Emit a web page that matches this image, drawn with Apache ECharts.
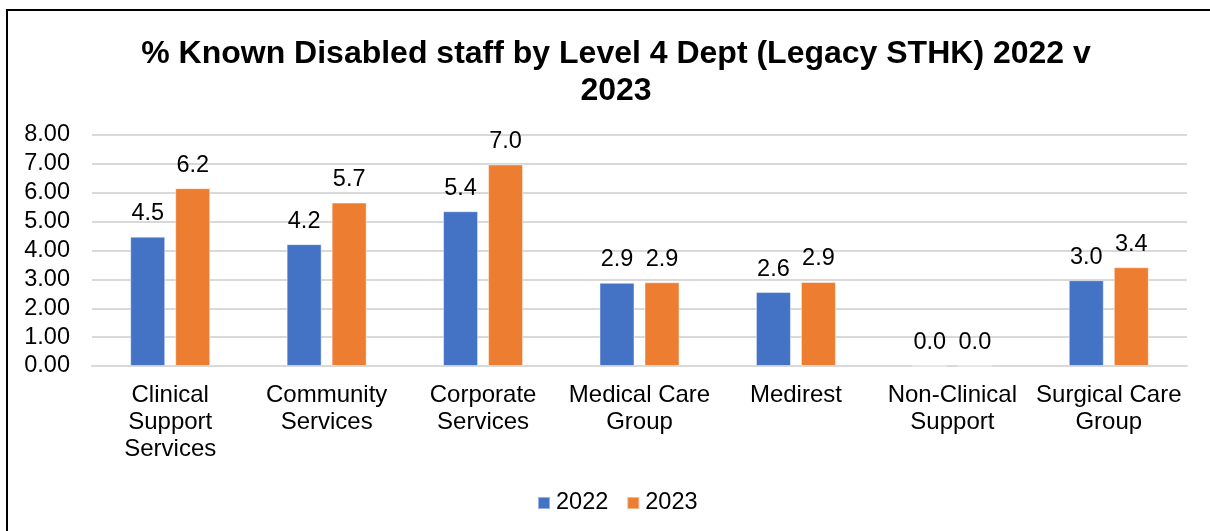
<!DOCTYPE html>
<html>
<head>
<meta charset="utf-8">
<script src="https://cdn.jsdelivr.net/npm/echarts@6/dist/echarts.min.js"></script>
<style>
  html, body { margin: 0; padding: 0; background: #fff; }
  #chart { width: 1210px; height: 531px; }
</style>
</head>
<body>
<div id="chart"></div>
<script>
// Departments (line breaks as they wrap under the axis)
const categories = [
  'Clinical\nSupport\nServices',
  'Community\nServices',
  'Corporate\nServices',
  'Medical Care\nGroup',
  'Medirest',
  'Non-Clinical\nSupport',
  'Surgical Care\nGroup'
];
const seriesNames = ['2022', '2023'];
// % known disabled staff per department
const values2022 = [4.48, 4.22, 5.36, 2.88, 2.56, 0.0, 2.97];
const values2023 = [6.16, 5.66, 6.98, 2.90, 2.91, 0.0, 3.42];
const yTicks = { min: 0, max: 8, interval: 1 };

const FONT = '"Liberation Sans", Arial, sans-serif';
const colors = ['#4472C4', '#ED7D31'];
const TEXT_SIZE = 23.5;

const chart = echarts.init(document.getElementById('chart'), null, { renderer: 'canvas' });

function barSeries(name, data, color) {
  return {
    name: name,
    type: 'bar',
    data: data,
    barWidth: 35,
    barGap: '28.6%',
    itemStyle: { color: color, borderColor: 'rgba(255,255,255,0.45)', borderWidth: 1 },
    label: {
      show: true,
      position: 'top',
      distance: 11,
      fontFamily: FONT,
      fontSize: TEXT_SIZE,
      color: '#000',
      formatter: p => p.value.toFixed(1)
    }
  };
}

chart.setOption({
  animation: false,
  backgroundColor: '#fff',
  textStyle: { fontFamily: FONT },
  title: {
    text: '% Known Disabled staff by Level 4 Dept (Legacy STHK) 2022 v\n2023',
    left: 611,
    top: 31,
    textAlign: 'center',
    textStyle: {
      fontFamily: FONT,
      fontSize: 32,
      fontWeight: 'bold',
      color: '#000',
      lineHeight: 37
    }
  },
  legend: {
    data: seriesNames,
    left: 532,
    top: 486,
    icon: 'rect',
    itemWidth: 12,
    itemHeight: 12,
    itemGap: 18,
    textStyle: { fontFamily: FONT, fontSize: TEXT_SIZE, color: '#000', padding: [0, 0, 0, 1] }
  },
  grid: { left: 92, right: 23, top: 135, bottom: 165, containLabel: false },
  xAxis: {
    type: 'category',
    data: categories,
    axisLine: { show: true, lineStyle: { color: '#d9d9d9', width: 2 } },
    axisTick: { show: false },
    axisLabel: {
      interval: 0,
      margin: 16,
      fontFamily: FONT,
      fontSize: 24,
      lineHeight: 27,
      color: '#000'
    }
  },
  yAxis: {
    type: 'value',
    min: yTicks.min,
    max: yTicks.max,
    interval: yTicks.interval,
    axisLine: { show: false },
    axisTick: { show: false },
    splitLine: { lineStyle: { color: '#d9d9d9', width: 2 } },
    axisLabel: {
      margin: 22,
      fontFamily: FONT,
      fontSize: TEXT_SIZE,
      color: '#000',
      formatter: v => v.toFixed(2)
    }
  },
  series: [
    barSeries(seriesNames[0], values2022, colors[0]),
    barSeries(seriesNames[1], values2023, colors[1])
  ],
  graphic: [
    {
      type: 'polyline',
      silent: true,
      shape: { points: [[7, 560], [7, 10], [1220, 10]] },
      style: { stroke: '#000', lineWidth: 2, fill: null }
    }
  ]
});
</script>
</body>
</html>
